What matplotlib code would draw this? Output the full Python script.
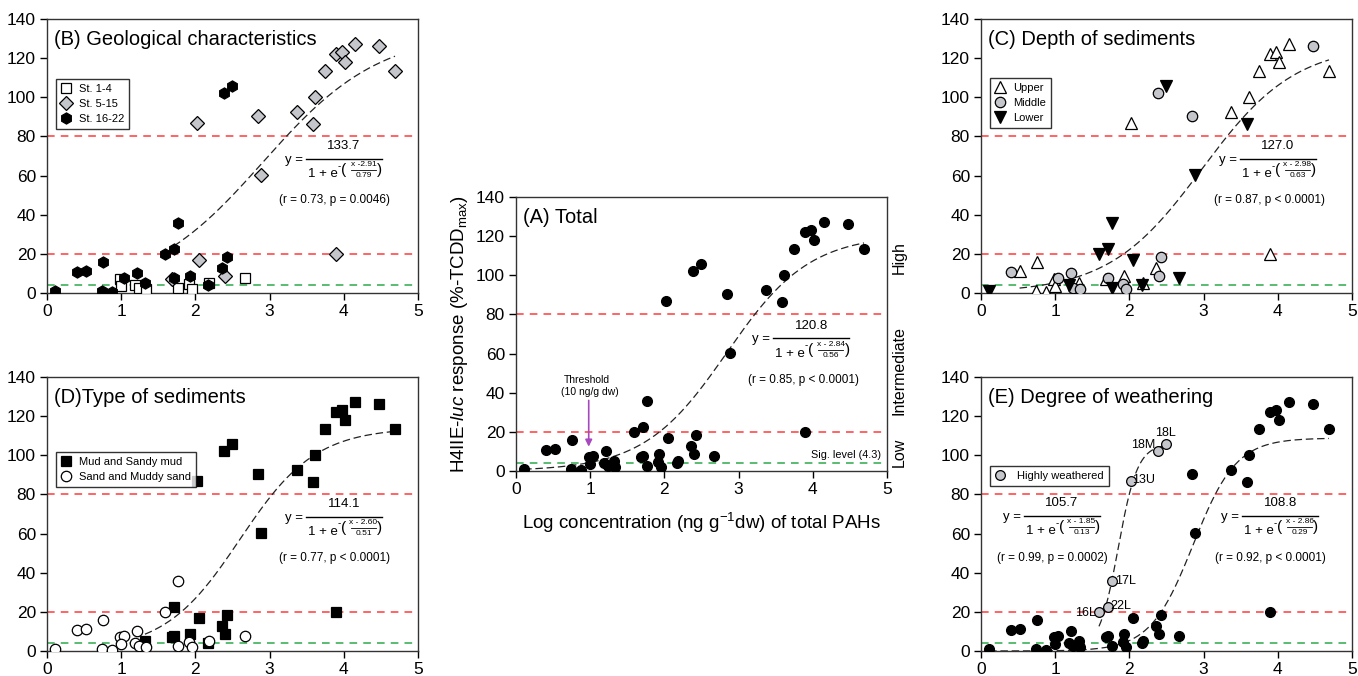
import numpy as np
import matplotlib
matplotlib.use("Agg")
from matplotlib import pyplot as plt

plt.rcParams['font.family'] = ['Liberation Sans', 'DejaVu Sans']
plt.rcParams['mathtext.fontset'] = 'custom'
plt.rcParams['mathtext.rm'] = 'Liberation Sans'
plt.rcParams['mathtext.it'] = 'Liberation Sans:italic'
plt.rcParams['mathtext.default'] = 'regular'

# log concentration of total PAHs and H4IIE-luc response, one entry per sample
log_pah = [0.11, 0.41, 0.52, 0.74, 0.76, 0.87, 0.99, 1.04, 1.00, 1.21,
           1.18, 1.24, 1.32, 1.34, 1.59, 1.71, 1.71, 1.69, 1.77, 1.76,
           1.93, 1.92, 1.96, 2.02, 2.05, 2.17, 2.19, 2.36, 2.38, 2.40,
           2.42, 2.49, 2.67, 2.85, 2.88, 3.37, 3.58, 3.61, 3.75, 3.89,
           3.98, 4.01, 4.15, 4.47, 4.69, 3.89]
response = [0.8, 10.6, 11.2, 1.2, 15.8, 0.7, 7.2, 7.5, 3.8, 10.2,
            4.1, 2.3, 5.3, 2.2, 20.0, 22.6, 7.6, 7.0, 35.7, 2.7,
            8.8, 4.6, 2.1, 87.0, 16.8, 4.1, 5.2, 13.0, 102.2, 8.5,
            18.6, 106.0, 7.9, 90.3, 60.2, 92.3, 86.5, 100.2, 113.3, 122.2,
            123.2, 118.2, 127.3, 126.3, 113.3, 19.7]

# station groups (B): W = St. 1-4, G = St. 5-15, K = St. 16-22
geo = list("KKKKKKWKWK" "WWKWKKKGKW" "KWWGGKWKKG" "KKWGGGGGGG" "GGGGGG")
# sediment depth (C): U = upper, M = middle, L = lower
depth = list("LMUUUUUMUM" "LMUMLLMULL" "UMMULLUUMM" "MLLMLULUUU" "UUUMUU")
# sediment type (D): K = mud and sandy mud, W = sand and muddy sand
sediment = list("WWWWWWWWWW" "WWKWWKKKWW" "KWWKKKWKKK" "KKWKKKKKKK" "KKKKKK")
# highly weathered samples (E)
weathered_names = ['16L', '22L', '17L', '13U', '18M', '18L']
weathered_idx = [14, 15, 18, 23, 28, 31]

# sigmoid fits: a, x0, b, x range
fit_total = (120.8, 2.84, 0.56, 0.11, 4.69)
fit_geo = (133.7, 2.91, 0.79, 1.71, 4.69)
fit_depth = (127.0, 2.98, 0.63, 0.52, 4.69)
fit_sed = (114.1, 2.60, 0.51, 1.32, 4.69)
fit_weath = (105.7, 1.85, 0.13, 1.59, 2.49)
fit_rest = (108.8, 2.86, 0.29, 0.11, 4.69)

x = np.array(log_pah)
y = np.array(response)
GREY = '#c4c6cc'
PX = 5 / 371      # data units per pixel, x
PY = 140 / 274    # data units per pixel, y


def sigmoid(fit, ax):
    a, x0, b, lo, hi = fit
    xs = np.linspace(lo, hi, 200)
    ax.plot(xs, a / (1 + np.exp(-(xs - x0) / b)), color='#222222',
            lw=0.9, ls=(0, (6, 3)), zorder=2)


def equation(ax, fit, xb, yb, r_text, xr, yr, sep=' - '):
    a, x0, b = fit[:3]

    def t(dx, dy, s, fs, ha='center'):
        ax.text(xb + dx * PX, yb + dy * PY, s, fontsize=fs, ha=ha,
                va='center')

    ax.plot([xb, xb + 76 * PX], [yb, yb], color='black', lw=1.0)
    t(-3, -1, 'y =', 9.5, 'right')
    t(38, 12.5, '%.1f' % a, 9.5)
    t(2, -15.5, '1 + e', 9.5, 'left')
    t(31.5, -7, '-', 7, 'left')
    t(35, -11.5, '(', 11, 'left')
    t(57.5, -6, 'x%s%.2f' % (sep, x0), 6)
    ax.plot([xb + 45 * PX, xb + 70 * PX], [yb - 11.5 * PY] * 2,
            color='black', lw=0.6)
    t(57.5, -17, '%.2f' % b, 6)
    t(71, -11.5, ')', 11, 'left')
    ax.text(xr, yr, r_text, ha='center', va='center', fontsize=8.5)


def base(ax, title):
    ax.set_xlim(0, 5)
    ax.set_ylim(0, 140)
    ax.set_xticks(range(6))
    ax.set_yticks(range(0, 141, 20))
    ax.tick_params(labelsize=12.5, length=5, width=1, direction='out',
                   pad=3)
    for s in ax.spines.values():
        s.set_linewidth(1.0)
        s.set_color('#333333')
    ax.axhline(80, color='#ff3b3b', lw=1.1, ls=(0, (5, 4)), zorder=1)
    ax.axhline(20, color='#ff3b3b', lw=1.1, ls=(0, (5, 4)), zorder=1)
    ax.axhline(4.3, color='#2eaa4a', lw=1.1, ls=(0, (5, 4)), zorder=1)
    ax.text(0.1, 129.5, title, fontsize=14.5, va='center', ha='left')


def legend(ax, top, hp=0.6):
    lg = ax.legend(loc='upper left', bbox_to_anchor=(0.024, top),
                   fontsize=8, frameon=True, fancybox=False,
                   edgecolor='black', borderpad=0.45, handletextpad=hp,
                   labelspacing=0.45, handlelength=1.0, borderaxespad=0)
    lg.get_frame().set_linewidth(1.0)


fig = plt.figure(figsize=(13.58, 6.76), dpi=100)
W, H = 371 / 1358, 274 / 676
axB = fig.add_axes([47 / 1358, 1 - 293 / 676, W, H])
axC = fig.add_axes([981 / 1358, 1 - 293 / 676, W, H])
axD = fig.add_axes([47 / 1358, 1 - 651 / 676, W, H])
axE = fig.add_axes([981 / 1358, 1 - 651 / 676, W, H])
axA = fig.add_axes([516 / 1358, 1 - 471 / 676, W, H])

# (A) Total
base(axA, '(A) Total')
sigmoid(fit_total, axA)
axA.plot(x, y, 'o', ms=7, mfc='black', mec='black', zorder=3)
equation(axA, fit_total, 3.47, 67.9, '(r = 0.85, p < 0.0001)', 3.88, 46.5)
axA.text(0.95, 46.5, 'Threshold', ha='center', va='center', fontsize=7.5)
axA.text(0.99, 40.5, '(10 ng/g dw)', ha='center', va='center', fontsize=7.5)
axA.annotate('', xy=(0.98, 11), xytext=(0.98, 37.5),
             arrowprops=dict(arrowstyle='-|>', color='#a848c0', lw=1.2,
                             mutation_scale=10))
axA.text(4.92, 8.3, 'Sig. level (4.3)', ha='right', va='center',
         fontsize=7.8)
axA.set_ylabel(r'H4IIE-$\it{luc}$ response (%-TCDD$_{max}$)', fontsize=13.5,
               labelpad=4)
axA.set_xlabel(r'Log concentration (ng g$^{-1}$dw) of total PAHs',
               fontsize=13.5, labelpad=10)
for lab, yy in [('High', 109), ('Intermediate', 51.5), ('Low', 9.5)]:
    axA.text(1.032, yy / 140, lab, transform=axA.transAxes, rotation=90,
             ha='center', va='center', fontsize=11.5)

# (B) Geological characteristics
base(axB, '(B) Geological characteristics')
sigmoid(fit_geo, axB)
styles_b = [('W', 'St. 1-4', 's', 'white', 7),
            ('G', 'St. 5-15', 'D', GREY, 7),
            ('K', 'St. 16-22', 'h', 'black', 8)]
for key, lab, m, c, ms in styles_b:
    sel = [i for i, g in enumerate(geo) if g == key]
    axB.plot(x[sel], y[sel], m, ms=ms, mfc=c, mec='black', mew=0.9,
             label=lab, zorder=3)
equation(axB, fit_geo, 3.49, 68.6, '(r = 0.73, p = 0.0046)', 3.88, 47.5,
         sep=' -')
legend(axB, 0.78)

# (C) Depth of sediments
base(axC, '(C) Depth of sediments')
sigmoid(fit_depth, axC)
styles_c = [('U', 'Upper', '^', 'white', 8),
            ('M', 'Middle', 'o', GREY, 7.5),
            ('L', 'Lower', 'v', 'black', 8)]
for key, lab, m, c, ms in styles_c:
    sel = [i for i, g in enumerate(depth) if g == key]
    axC.plot(x[sel], y[sel], m, ms=ms, mfc=c, mec='black', mew=0.9,
             label=lab, zorder=3)
equation(axC, fit_depth, 3.49, 68.5, '(r = 0.87, p < 0.0001)', 3.89, 47.6)
legend(axC, 0.785)

# (D) Type of sediments
base(axD, '(D)Type of sediments')
sigmoid(fit_sed, axD)
styles_d = [('K', 'Mud and Sandy mud', 's', 'black', 7),
            ('W', 'Sand and Muddy sand', 'o', 'white', 7.5)]
for key, lab, m, c, ms in styles_d:
    sel = [i for i, g in enumerate(sediment) if g == key]
    axD.plot(x[sel], y[sel], m, ms=ms, mfc=c, mec='black', mew=0.9,
             label=lab, zorder=3)
equation(axD, fit_sed, 3.49, 68.7, '(r = 0.77, p < 0.0001)', 3.88, 47.4)
legend(axD, 0.726)

# (E) Degree of weathering
base(axE, '(E) Degree of weathering')
sigmoid(fit_weath, axE)
sigmoid(fit_rest, axE)
rest = [i for i in range(len(log_pah)) if i not in weathered_idx]
axE.plot(x[rest], y[rest], 'o', ms=7, mfc='black', mec='black', zorder=3)
axE.plot(x[weathered_idx], y[weathered_idx], 'o', ms=7, mfc=GREY,
         mec='black', mew=0.9, label='Highly weathered', zorder=3)
offsets = {'16L': (-0.18, -0.5), '22L': (0.18, 0.5), '17L': (0.18, 0.2),
           '13U': (0.17, 0.2), '18M': (-0.19, 3.3), '18L': (0.0, 5.5)}
for name, i in zip(weathered_names, weathered_idx):
    dx, dy = offsets[name]
    axE.text(x[i] + dx, y[i] + dy, name, ha='center', va='center',
             fontsize=9)
equation(axE, fit_weath, 0.58, 69, '(r = 0.99, p = 0.0002)', 0.96, 47.7)
equation(axE, fit_rest, 3.52, 69, '(r = 0.92, p < 0.0001)', 3.9, 47.7)
legend(axE, 0.675, hp=1.0)

fig.savefig('out.png', dpi=100)
